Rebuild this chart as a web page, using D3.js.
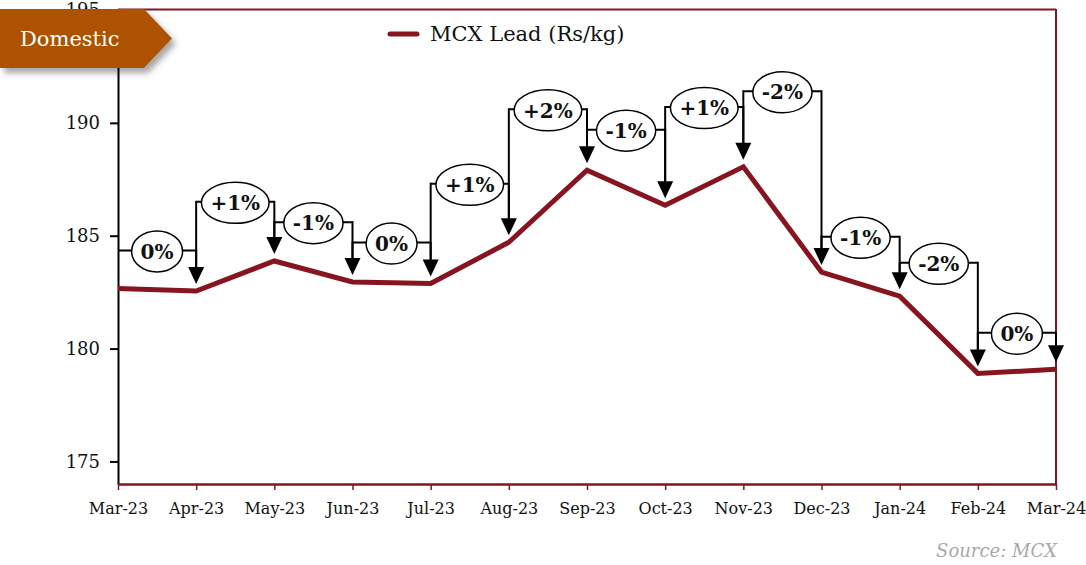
<!DOCTYPE html>
<html>
<head>
<meta charset="utf-8">
<script src="https://cdn.jsdelivr.net/npm/d3@7"></script>
<style>
  body { margin: 0; background: #fff; }
  svg { display: block; font-family: "DejaVu Serif", Georgia, serif; }
</style>
</head>
<body>
<div id="chart"></div>
<script>
// data
const months = ["Mar-23", "Apr-23", "May-23", "Jun-23", "Jul-23", "Aug-23", "Sep-23",
                "Oct-23", "Nov-23", "Dec-23", "Jan-24", "Feb-24", "Mar-24"];
const leadPrice = [182.66, 182.55, 183.88, 182.95, 182.88, 184.71, 187.90,
                   186.35, 188.05, 183.39, 182.32, 178.90, 179.08];
const changeLabels = ["0%", "+1%", "-1%", "0%", "+1%", "+2%", "-1%", "+1%", "-2%", "-1%", "-2%", "0%"];
// level of each bracket, in price units
const bracketLevel = [184.35, 186.5, 185.6, 184.7, 187.3, 190.6, 189.7, 190.7, 191.4, 184.95, 183.8, 180.7];
const yTicks = [175, 180, 185, 190, 195];

const width = 1086, height = 565;
const lineColor = "#86151f";

const svg = d3.select("#chart").append("svg")
    .attr("width", width)
    .attr("height", height);

const x = d3.scalePoint().domain(months).range([118, 1056]);
const y = d3.scaleLinear().domain([174, 195]).range([484, 10]);

let defs = svg.append("defs");
let shadow = defs.append("filter").attr("id", "shadow")
    .attr("x", "-10%").attr("y", "-20%").attr("width", "130%").attr("height", "150%");
shadow.append("feDropShadow")
    .attr("dx", 4).attr("dy", 5).attr("stdDeviation", 3)
    .attr("flood-color", "#000").attr("flood-opacity", 0.35);

// frame: top and right borders
svg.append("line")
    .attr("x1", 118).attr("x2", 1056).attr("y1", 9.5).attr("y2", 9.5)
    .attr("stroke", lineColor).attr("stroke-width", 2);
svg.append("line")
    .attr("x1", 1056).attr("x2", 1056).attr("y1", 9).attr("y2", 484)
    .attr("stroke", lineColor).attr("stroke-width", 2);

// y axis
let yAxis = svg.append("g")
    .attr("transform", "translate(118,0)")
    .call(d3.axisLeft(y).tickValues(yTicks).tickSize(8).tickPadding(10).tickSizeOuter(0));
yAxis.select(".domain").attr("stroke", "#000").attr("stroke-width", 2);
yAxis.selectAll(".tick line").attr("stroke", "#000").attr("stroke-width", 2);
yAxis.selectAll(".tick text")
    .attr("font-family", "DejaVu Serif, Georgia, serif")
    .attr("font-size", 18).attr("fill", "#111");

// x axis
let xAxis = svg.append("g")
    .attr("transform", "translate(0,484)")
    .call(d3.axisBottom(x).tickSize(6).tickPadding(13).tickSizeOuter(0));
xAxis.select(".domain").attr("stroke", lineColor).attr("stroke-width", 2.5);
xAxis.selectAll(".tick line").attr("stroke", lineColor).attr("stroke-width", 1.5);
xAxis.selectAll(".tick text")
    .attr("font-family", "DejaVu Serif, Georgia, serif")
    .attr("font-size", 16).attr("fill", "#111");

// price line
const line = d3.line()
    .x((d, i) => x(months[i]))
    .y(d => y(d));

svg.append("path")
    .datum(leadPrice)
    .attr("d", line)
    .attr("fill", "none")
    .attr("stroke", lineColor)
    .attr("stroke-width", 5)
    .attr("stroke-linejoin", "miter");

// change brackets
const gap = 7, headH = 17, headW = 8;
let brackets = svg.append("g").attr("class", "brackets");
changeLabels.forEach(function(label, i) {
    let x0 = x(months[i]), x1 = x(months[i + 1]);
    let hy = y(bracketLevel[i]);
    let tipL = y(leadPrice[i]) - gap - headH;
    let tipR = y(leadPrice[i + 1]) - gap;
    let g = brackets.append("g");
    if (i > 0) {
        g.append("line")
            .attr("x1", x0).attr("x2", x0).attr("y1", hy - 1).attr("y2", Math.max(hy, tipL))
            .attr("stroke", "#000").attr("stroke-width", 2);
    }
    g.append("line")
        .attr("x1", x0).attr("x2", x1).attr("y1", hy).attr("y2", hy)
        .attr("stroke", "#000").attr("stroke-width", 2);
    g.append("line")
        .attr("x1", x1).attr("x2", x1).attr("y1", hy - 1).attr("y2", tipR - headH + 2)
        .attr("stroke", "#000").attr("stroke-width", 2);
    g.append("path")
        .attr("d", "M" + (x1 - headW) + "," + (tipR - headH) + " L" + (x1 + headW) + "," + (tipR - headH) +
                   " L" + x1 + "," + tipR + " Z")
        .attr("fill", "#000");

    let cx = (x0 + x1) / 2;
    let ell = g.append("ellipse")
        .attr("cx", cx).attr("cy", hy + 1)
        .attr("fill", "#fff").attr("stroke", "#000").attr("stroke-width", 1.5);
    let t = g.append("text")
        .attr("x", cx).attr("y", hy + 1)
        .attr("dy", "0.36em")
        .attr("text-anchor", "middle")
        .attr("font-weight", "bold")
        .attr("font-size", 20)
        .attr("fill", "#111")
        .text(label);
    let w = t.node().getComputedTextLength();
    ell.attr("rx", w / 2 + 9).attr("ry", 20.5);
});

// legend
svg.append("line")
    .attr("x1", 390).attr("x2", 417).attr("y1", 34).attr("y2", 34)
    .attr("stroke", lineColor).attr("stroke-width", 5).attr("stroke-linecap", "round");
svg.append("text")
    .attr("x", 430).attr("y", 34).attr("dy", "0.35em")
    .attr("font-size", 21).attr("fill", "#111")
    .text("MCX Lead (Rs/kg)");

// badge
let badge = svg.append("g").attr("filter", "url(#shadow)");
badge.append("path")
    .attr("d", "M0,9 L144,9 L172,38.5 L144,68 L0,68 Z")
    .attr("fill", "#ad5200");
svg.append("text")
    .attr("x", 20).attr("y", 39).attr("dy", "0.35em")
    .attr("font-size", 21).attr("fill", "#fff")
    .text("Domestic");

// source
svg.append("text")
    .attr("x", 1057).attr("y", 551).attr("dy", "0.35em")
    .attr("text-anchor", "end")
    .attr("font-style", "italic")
    .attr("font-size", 18).attr("fill", "#a9a9a9")
    .text("Source: MCX");
</script>
</body>
</html>
